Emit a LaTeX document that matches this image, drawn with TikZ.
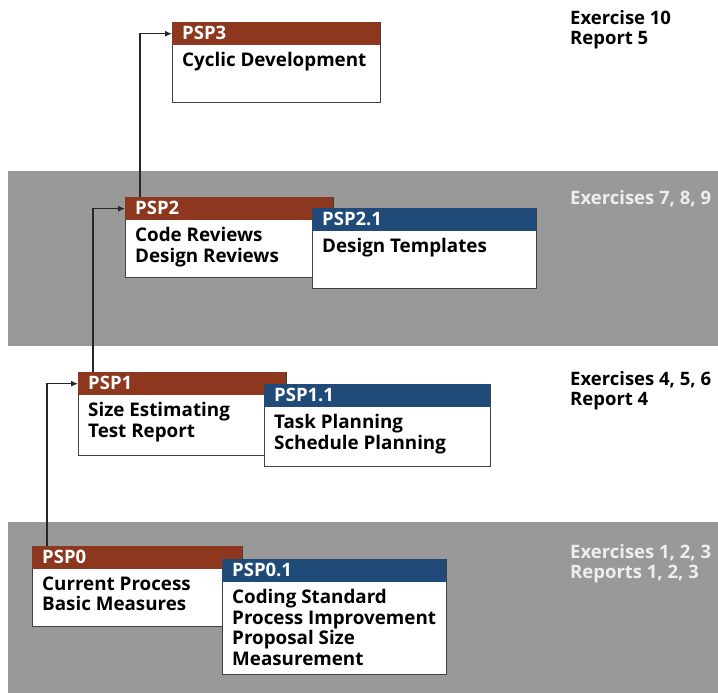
\documentclass[tikz,border=0pt]{standalone}
\usepackage{fontspec}
\setmainfont{Open Sans}
\usetikzlibrary{arrows.meta,positioning}
\definecolor{hdrred}{RGB}{140,55,30}
\definecolor{hdrblue}{RGB}{32,74,120}
\definecolor{bandgray}{RGB}{153,153,153}
\definecolor{lighttext}{RGB}{238,238,238}
\tikzset{
  frame/.style={draw=black!75, line width=1.3pt, fill=white, inner sep=0pt, anchor=north west},
  hdr/.style={fill=#1, inner sep=0pt, anchor=north west, minimum height=23pt},
  hdrtext/.style={text=white, font=\fontsize{18.5}{20}\selectfont\bfseries, anchor=west, inner sep=0pt},
  bodytext/.style={text=black, font=\fontsize{18.8}{20.5}\selectfont\bfseries, anchor=north west, inner sep=0pt, align=left},
  sidetext/.style={font=\fontsize{18.5}{20}\selectfont\bfseries, anchor=north west, inner sep=0pt, align=left},
  conn/.style={draw=black!85, line width=1.2pt, -{Latex[length=7pt,width=6pt]}}
}
\newcommand{\pspbox}[8]{%
  % #1 name, #2 x, #3 y, #4 width, #5 height, #6 color, #7 title, #8 body
  \node[frame, minimum width=#4pt, minimum height=#5pt] (#1) at (#2,#3) {};
  \node[hdr=#6, minimum width=#4pt] (#1h) at (#2,#3) {};
  \node[hdrtext] (#1t) at ([xshift=10pt,yshift=1pt]#1h.west) {#7};
  \node[bodytext] (#1b) at ([xshift=10pt,yshift=-7pt]#1h.south west) {#8};
}
\begin{document}
\begin{tikzpicture}[x=1pt,y=-1pt]
\useasboundingbox (0,0) rectangle (718,693);
\fill[white] (0,0) rectangle (718,693);
% bands
\fill[bandgray] (8,171) rectangle (718,346);
\fill[bandgray] (8,522) rectangle (718,693);
% boxes
\pspbox{p3}{172}{22}{208}{80}{hdrred}{PSP3}{Cyclic Development}
\pspbox{p2}{125}{197}{208}{80}{hdrred}{PSP2}{Code Reviews\\Design Reviews}
\pspbox{p21}{312}{208}{224}{80}{hdrblue}{PSP2.1}{Design Templates}
\pspbox{p1}{78}{372}{208}{83}{hdrred}{PSP1}{Size Estimating\\Test Report}
\pspbox{p11}{264}{384}{226}{82}{hdrblue}{PSP1.1}{Task Planning\\Schedule Planning}
\pspbox{p0}{32}{546}{210}{80}{hdrred}{PSP0}{Current Process\\Basic Measures}
\pspbox{p01}{222}{559}{224}{115}{hdrblue}{PSP0.1}{Coding Standard\\Process Improvement\\Proposal Size\\Measurement}
% side texts
\node[sidetext, text=black] (s3) at (570,10) {Exercise 10\\Report 5};
\node[sidetext, text=lighttext] (s2) at (570,190) {Exercises 7, 8, 9};
\node[sidetext, text=black] (s1) at (570,371) {Exercises 4, 5, 6\\Report 4};
\node[sidetext, text=lighttext] (s0) at (570,544) {Exercises 1, 2, 3\\Reports 1, 2, 3};
% connectors
\draw[conn] ([xshift=15pt]p0.north west) |- (p1h.west);
\draw[conn] ([xshift=15pt]p1.north west) |- (p2h.west);
\draw[conn] ([xshift=15pt]p2.north west) |- (p3h.west);
\end{tikzpicture}
\end{document}
